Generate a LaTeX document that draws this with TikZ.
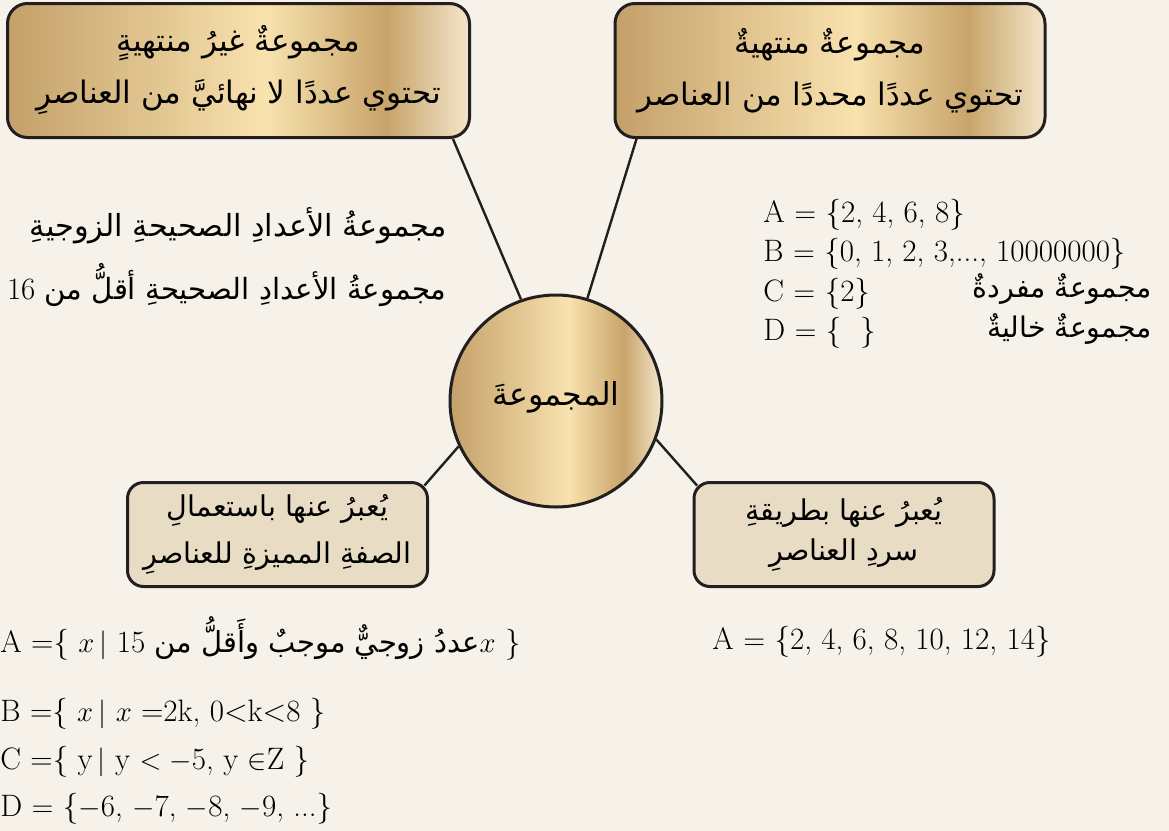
\documentclass[tikz,border=0pt]{standalone}
\usepackage{fontspec}
\usepackage{tikz}
\usetikzlibrary{positioning,calc}
\TeXXeTstate=1
\newfontfamily\arabicfont[Script=Arabic]{DejaVu Sans}
\definecolor{paper}{HTML}{F6F2EA}
\definecolor{ink}{HTML}{231F20}
\definecolor{sand}{HTML}{E8DCC5}
\definecolor{golddark}{HTML}{C4A06A}
\definecolor{goldlight}{HTML}{F8E2AE}
\definecolor{goldmid}{HTML}{C8A46A}
\definecolor{goldpale}{HTML}{F3E6CB}
\pgfdeclarehorizontalshading{goldbar}{100bp}{color(0bp)=(golddark); color(25bp)=(golddark);
  color(53bp)=(goldlight); color(66bp)=(goldmid); color(75bp)=(goldpale); color(100bp)=(goldpale)}
\tikzset{
  goldbox/.style={draw=ink,line width=1.5pt,rounded corners=10pt,shading=goldbar,align=center,
    minimum width=231pt,minimum height=67pt,inner sep=0pt,font=\arabicfont\fontsize{15.5}{26}\selectfont},
  sandbox/.style={draw=ink,line width=1.5pt,rounded corners=8pt,fill=sand,align=center,
    minimum width=150pt,minimum height=52pt,inner sep=0pt,font=\arabicfont\fontsize{14.3}{22}\selectfont},
  hub/.style={circle,draw=ink,line width=1.5pt,shading=goldbar,minimum size=106pt,inner sep=0pt,
    font=\arabicfont\fontsize{15.8}{20}\selectfont},
  link/.style={draw=ink,line width=1.2pt},
  settext/.style={anchor=base west,inner sep=0pt,font=\fontsize{15.5}{18}\selectfont},
  artext/.style={anchor=base east,inner sep=0pt,font=\arabicfont\fontsize{15.2}{20}\selectfont}
}
\newcommand{\artxt}[1]{\beginR #1\endR}

\begin{document}
\begin{tikzpicture}[x=0.5pt,y=-0.5pt]
 \path[use as bounding box,fill=paper] (0,0) rectangle (1169,831);
 % the four boxes and the hub
 \node[goldbox] (infin) at (238.5,70.5) {\artxt{مجموعةٌ غيرُ منتهيةٍ}\\\artxt{تحتوي عددًا لا نهائيَّ من العناصرِ}};
 \node[goldbox,minimum width=215pt] (fin) at (830,70.5) {\artxt{مجموعةٌ منتهيةٌ}\\\artxt{تحتوي عددًا محددًا من العناصر}};
 \node[hub] (hub) at (556,401) {\raisebox{8pt}{\artxt{المجموعةَ}}};
 \node[sandbox,font=\arabicfont\fontsize{14.3}{23.5}\selectfont] (rule) at (277.5,534.5) {\artxt{يُعبرُ عنها باستعمالِ}\\\artxt{الصفةِ المميزةِ للعناصرِ}};
 \node[sandbox,font=\arabicfont\fontsize{14.3}{20}\selectfont] (list) at (844,534.5) {\artxt{يُعبرُ عنها بطريقةِ}\\\artxt{سردِ العناصرِ}};
 \draw[link] ([xshift=-9pt]infin.south east) -- (hub.109);
 \draw[link] ([xshift=11.5pt]fin.south west) -- (hub.73);
 \draw[link] (hub.205) -- ([shift={(-2.3pt,-2.3pt)}]rule.north east);
 \draw[link] (hub.339) -- ([shift={(2.3pt,-2.3pt)}]list.north west);
 % examples
 \node[artext] (even) at (447,236) {\artxt{مجموعةُ الأعدادِ الصحيحةِ الزوجيةِ}};
 \node[artext,font=\arabicfont\fontsize{14.6}{20}\selectfont] (less) at (447,299) {\artxt{مجموعةُ الأعدادِ الصحيحةِ أقلُّ من \beginL{\rmfamily\fontsize{15.5}{18}\selectfont 16}\endL}};
 \node[settext] (setA) at (763,222) {A $=$ \{2, 4, 6, 8\}};
 \node[settext] (setB) at (763,261) {B $=$ \{0, 1, 2, 3,..., 10000000\}};
 \node[settext] (setC) at (763,301) {C $=$ \{2\}};
 \node[settext] (setD) at (763,340) {D $=$ \{ \ \}};
 \node[artext,font=\arabicfont\fontsize{14.2}{18}\selectfont] (single) at (1152,297) {\artxt{مجموعةٌ مفردةٌ}};
 \node[artext,font=\arabicfont\fontsize{14.2}{18}\selectfont] (empty) at (1152,337) {\artxt{مجموعةٌ خاليةٌ}};
 \node[settext] (enum) at (712,649) {A $=$ \{2, 4, 6, 8, 10, 12, 14\}};
 \node[settext] (descA) at (0,652) {A =\{ $x$\,$|$ 15 {\arabicfont\fontsize{14.5}{18}\selectfont\artxt{عددُ زوجيٌّ موجبٌ وأَقلُّ من}}$x$ \}};
 \node[settext] (descB) at (0,721) {B =\{ $x$\,$|$ $x$ =2k, 0<k<8 \}};
 \node[settext] (descC) at (0,769) {C =\{ y\,$|$ y $< -$5, y $\in$Z \}};
 \node[settext] (descD) at (0,816) {D $=$ \{$-$6, $-$7, $-$8, $-$9, ...\}};
\end{tikzpicture}
\end{document}
